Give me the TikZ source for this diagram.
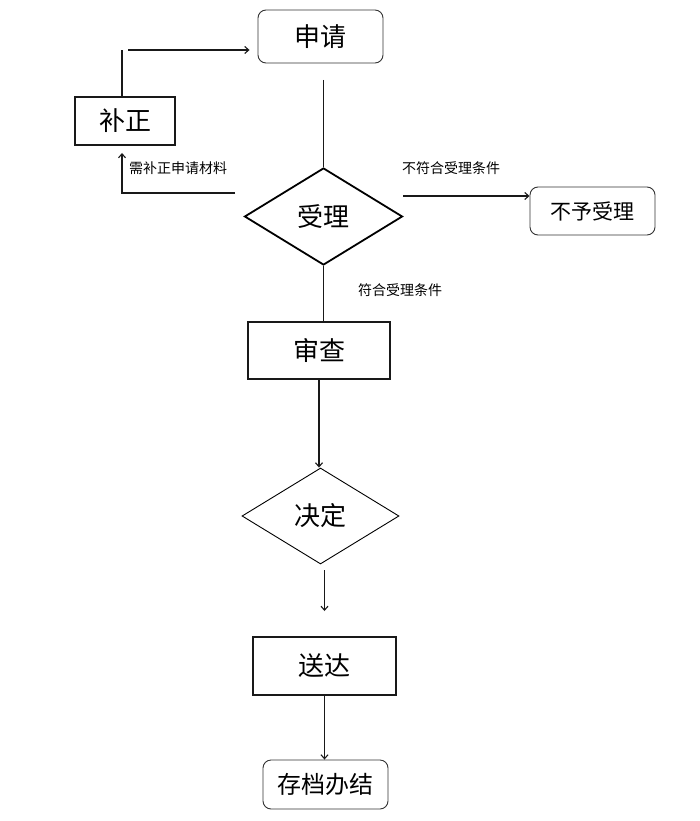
\documentclass[tikz,border=0pt]{standalone}
\usepackage{fontspec}
\setmainfont{Noto Sans CJK SC}
\usetikzlibrary{shapes.geometric,arrows.meta,calc}
\begin{document}
\begin{tikzpicture}[x=1pt,y=-1pt,
  rbox/.style={draw=black!80,line width=0.9pt,rounded corners=8pt,inner sep=0pt},
  tbox/.style={draw=black!90,line width=2pt,inner sep=0pt},
  dia/.style={diamond,draw=black,inner sep=0pt},
  big/.style={font=\fontsize{26}{28}\selectfont},
  lbl/.style={font=\fontsize{14}{16}\selectfont,inner sep=0pt},
  conn/.style={draw=black!90,line width=1.1pt},
  arr/.style={conn,-{Straight Barb[length=4pt,width=7pt]}}]
\useasboundingbox (0,0) rectangle (700,821);
% nodes
\node[rbox,big,minimum width=125pt,minimum height=53pt] (sq) at (320.5,36.5) {申请};
\node[tbox,big,minimum width=100pt,minimum height=48pt] (bz) at (125,121) {补正};
\node[dia,big,line width=1.8pt,minimum width=158pt,minimum height=97pt] (sl) at (323.5,216.5) {受理};
\node[rbox,font=\fontsize{21}{23}\selectfont,minimum width=125pt,minimum height=48pt] (by) at (592.5,211) {不予受理};
\node[tbox,big,minimum width=142pt,minimum height=57pt] (sc) at (319,350.5) {审查};
\node[dia,big,line width=0.9pt,minimum width=157pt,minimum height=96pt] (jd) at (320.5,516) {决定};
\node[tbox,big,minimum width=143pt,minimum height=58pt] (sd) at (324.5,666) {送达};
\node[rbox,font=\fontsize{24}{26}\selectfont,minimum width=125pt,minimum height=49pt] (cd) at (325.5,784.5) {存档办结};
% labels
\node[lbl] (l1) at (178,168) {需补正申请材料};
\node[lbl] (l2) at (451,168) {不符合受理条件};
\node[lbl] (l3) at (400,290) {符合受理条件};
% coordinates
\coordinate (c1) at (323.5,80);
\coordinate (b1) at (122,50);
\coordinate (b2) at (128,50);
\coordinate (f1) at (235,193);
\coordinate (r1) at (403,196);
% connectors
\draw[conn] (c1) -- (sl.north);
\draw[conn] (b1 |- bz.north) -- (b1);
\draw[arr,shorten >=8pt] (b2) -- (b2 -| sq.west);
\draw[arr,shorten >=7pt] (f1) -| (b1 |- bz.south);
\draw[arr] (r1) -- (r1 -| by.west);
\draw[conn] (sl.south) -- (sl.south |- sc.north);
\draw[arr] (sc.south) -- (sc.south |- jd.north);
\draw[arr] ([yshift=-6pt]jd.south -| sd.north) -- ([yshift=25pt]sd.north);
\draw[arr] (sd.south) -- (sd.south |- cd.north);
\end{tikzpicture}
\end{document}
